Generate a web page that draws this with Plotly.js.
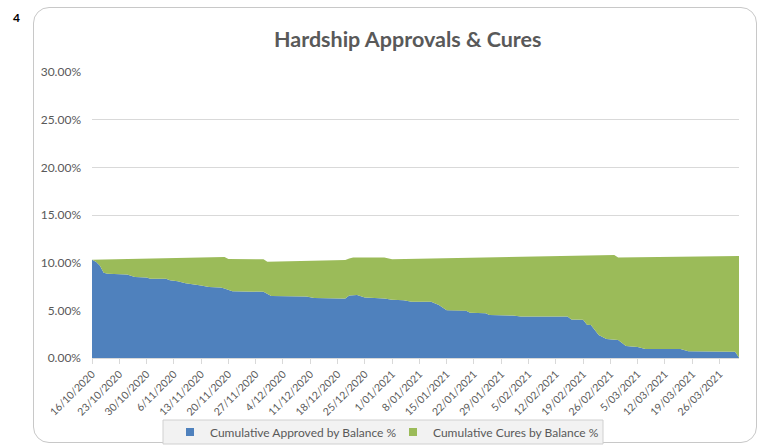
<!DOCTYPE html>
<html>
<head>
<meta charset="utf-8">
<script src="https://cdn.plot.ly/plotly-3.0.1.min.js"></script>
<style>
  html, body { margin: 0; padding: 0; background: #ffffff; }
  #wrap { position: relative; width: 765px; height: 447px; }
  #card { position: absolute; left: 33px; top: 7px; width: 724px; height: 436px;
          border: 1px solid #c8c8c8; border-radius: 16px; box-sizing: border-box; }
  #chart { position: absolute; left: 0; top: 0; width: 765px; height: 447px; }
</style>
</head>
<body>
<div id="wrap">
  <div id="card"></div>
  <div id="chart"></div>
</div>
<script>
// Dates (points where the curves change)
const dates = [
  '2020-10-16','2020-10-17','2020-10-18','2020-10-19','2020-10-20','2020-10-24','2020-10-25','2020-10-27',
  '2020-10-30','2020-10-31','2020-11-04','2020-11-05','2020-11-07','2020-11-09','2020-11-11','2020-11-13',
  '2020-11-15','2020-11-18','2020-11-19','2020-11-20','2020-11-21','2020-11-29','2020-11-30','2020-12-01',
  '2020-12-10','2020-12-12','2020-12-19','2020-12-20','2020-12-21','2020-12-22','2020-12-23','2020-12-25',
  '2020-12-30','2021-01-01','2021-01-04','2021-01-06','2021-01-11','2021-01-13','2021-01-15','2021-01-20',
  '2021-01-21','2021-01-25','2021-01-26','2021-02-01','2021-02-03','2021-02-15','2021-02-16','2021-02-19',
  '2021-02-20','2021-02-21','2021-02-23','2021-02-25','2021-02-27','2021-02-28','2021-03-02','2021-03-05',
  '2021-03-07','2021-03-16','2021-03-18','2021-03-30','2021-03-31'
];
// Cumulative Approved by Balance % (percent)
const approved = [
  10.30, 10.10, 9.70, 8.95, 8.85, 8.80, 8.75, 8.50,
  8.45, 8.30, 8.30, 8.15, 8.05, 7.85, 7.75, 7.60,
  7.45, 7.40, 7.30, 7.15, 7.00, 6.95, 6.70, 6.50,
  6.45, 6.30, 6.25, 6.25, 6.55, 6.60, 6.60, 6.35,
  6.25, 6.10, 6.05, 5.90, 5.90, 5.55, 5.00, 4.95,
  4.75, 4.70, 4.50, 4.45, 4.35, 4.35, 4.05, 4.00,
  3.50, 3.45, 2.40, 2.00, 1.95, 1.90, 1.25, 1.15,
  0.95, 0.95, 0.70, 0.65, 0.05
];
// Cumulative Cures by Balance % (percent)
const cures = [
  0.00, 0.21, 0.62, 1.38, 1.49, 1.57, 1.63, 1.90,
  1.97, 2.13, 2.16, 2.32, 2.44, 2.67, 2.79, 2.96,
  3.12, 3.19, 3.30, 3.23, 3.38, 3.40, 3.40, 3.61,
  3.73, 3.90, 4.02, 4.03, 3.90, 3.95, 3.95, 4.20,
  4.30, 4.25, 4.32, 4.49, 4.53, 4.89, 5.46, 5.55,
  5.76, 5.84, 6.05, 6.15, 6.26, 6.36, 6.67, 6.74,
  7.25, 7.31, 8.37, 8.79, 8.85, 8.65, 9.31, 9.42,
  9.63, 9.67, 9.93, 10.04, 10.65
];
const tickDates = [
  '2020-10-16','2020-10-23','2020-10-30','2020-11-06','2020-11-13','2020-11-20','2020-11-27',
  '2020-12-04','2020-12-11','2020-12-18','2020-12-25','2021-01-01','2021-01-08','2021-01-15',
  '2021-01-22','2021-01-29','2021-02-05','2021-02-12','2021-02-19','2021-02-26','2021-03-05',
  '2021-03-12','2021-03-19','2021-03-26'
];
const yTicks = [0, 5, 10, 15, 20, 25, 30];
const yTickLabels = ['0.00%', '5.00%', '10.00%', '15.00%', '20.00%', '25.00%', '30.00%'];
const seriesNames = ['Cumulative Approved by Balance %', 'Cumulative Cures by Balance %'];
const seriesColors = ['#4f81bd', '#9bbb59'];

const FONT = 'Lato, "Open Sans", sans-serif';
const traces = [
  {
    x: dates, y: approved, type: 'scatter', mode: 'lines', stackgroup: 'one',
    name: seriesNames[0], showlegend: false,
    line: {width: 0, color: seriesColors[0]}, fillcolor: seriesColors[0]
  },
  {
    x: dates, y: cures, type: 'scatter', mode: 'lines', stackgroup: 'one',
    name: seriesNames[1], showlegend: false,
    line: {width: 0, color: seriesColors[1]}, fillcolor: seriesColors[1]
  },
  // legend entries (square keys, as in the original)
  {
    x: [null], y: [null], type: 'scatter', mode: 'markers', name: seriesNames[0],
    marker: {symbol: 'square', size: 8, color: seriesColors[0]}, showlegend: true
  },
  {
    x: [null], y: [null], type: 'scatter', mode: 'markers', name: seriesNames[1],
    marker: {symbol: 'square', size: 8, color: seriesColors[1]}, showlegend: true
  }
];
const layout = {
  width: 765, height: 447,
  paper_bgcolor: 'rgba(0,0,0,0)', plot_bgcolor: 'rgba(0,0,0,0)',
  margin: {l: 92, r: 26, t: 72, b: 89},
  font: {family: FONT, color: '#595959', size: 11},
  title: {text: '<b>Hardship Approvals &amp; Cures</b>', x: 0.533, xref: 'container', xanchor: 'center',
          y: 0.912, yref: 'container', yanchor: 'middle',
          font: {family: FONT, size: 21.5, color: '#595959'}},
  xaxis: {
    type: 'date', range: ['2020-10-16', '2021-03-31'],
    tickvals: tickDates, tickformat: '%-d/%m/%Y', tickangle: -45,
    showgrid: false, showline: true, linecolor: '#d9d9d9', linewidth: 1,
    ticks: 'outside', ticklen: 5, tickcolor: '#d9d9d9',
    tickfont: {family: FONT, size: 10.5, color: '#595959'},
    zeroline: false
  },
  yaxis: {
    range: [0, 30], tickvals: yTicks, ticktext: yTickLabels,
    showgrid: true, gridcolor: '#d9d9d9', gridwidth: 1, zeroline: false,
    showline: false, ticks: '', ticklabelstandoff: 10,
    tickfont: {family: FONT, size: 12, color: '#595959'}
  },
  showlegend: true,
  legend: {
    orientation: 'h', x: 170 / 765, xanchor: 'left', xref: 'container',
    y: 15 / 447, yref: 'container', yanchor: 'middle',
    bgcolor: 'rgba(0,0,0,0)', borderwidth: 0,
    font: {family: FONT, size: 12, color: '#595959'},
    entrywidth: 178, itemwidth: 30, traceorder: 'normal'
  },
  shapes: [
    {type: 'rect', xref: 'paper', yref: 'paper', layer: 'below',
     x0: (163 - 92) / 647, x1: (603 - 92) / 647, y0: (358 - 444) / 286, y1: (358 - 420) / 286,
     fillcolor: '#f2f2f2', line: {color: '#d0d0d0', width: 1}}
  ],
  annotations: [
    {text: '<b>4</b>', xref: 'paper', yref: 'paper', x: -0.125, y: 1.19,
     xanchor: 'left', yanchor: 'middle', showarrow: false,
     font: {family: FONT, size: 12, color: '#000000'}}
  ]
};
Plotly.newPlot('chart', traces, layout, {displayModeBar: false, staticPlot: true});
</script>
</body>
</html>
